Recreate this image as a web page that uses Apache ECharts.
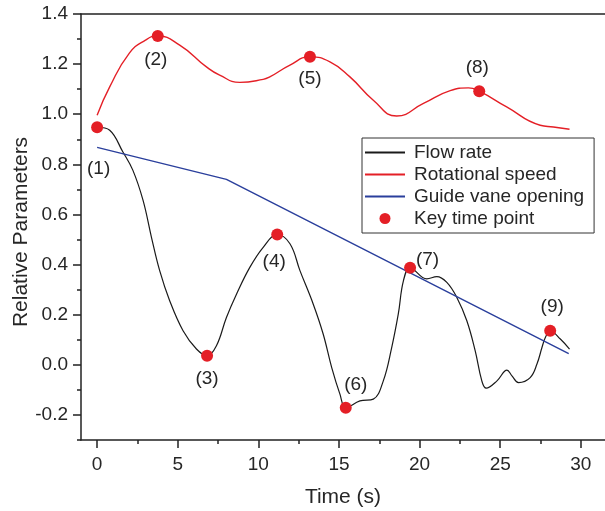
<!DOCTYPE html>
<html>
<head>
<meta charset="utf-8">
<script src="https://cdn.jsdelivr.net/npm/echarts@6/dist/echarts.min.js"></script>
<style>
html,body{margin:0;padding:0;background:#fff;}
#chart{width:605px;height:511px;}
</style>
</head>
<body>
<div id="chart"></div>
<script>
// ---- data ----
var flowT = [0, 0.78, 1.6, 2.22, 2.85, 3.37, 3.88, 4.5, 5.33, 6.16, 6.82, 7.4, 8.02, 8.65, 9.47, 10.3, 11.17, 11.96, 12.58, 13.4, 14.02, 14.55, 15.06, 15.42, 16.3, 17.13, 17.75, 18.27, 18.68, 19.0, 19.41, 20.45, 21.07, 21.69, 22.31, 22.93, 23.45, 23.86, 24.13, 24.8, 25.42, 25.73, 26.14, 26.86, 27.28, 27.59, 27.8, 28.1, 28.73, 29.3];
var flowV = [0.948, 0.936, 0.849, 0.776, 0.656, 0.509, 0.376, 0.256, 0.136, 0.063, 0.036, 0.076, 0.189, 0.283, 0.389, 0.469, 0.52, 0.483, 0.376, 0.243, 0.123, -0.011, -0.117, -0.171, -0.144, -0.137, -0.064, 0.069, 0.203, 0.336, 0.387, 0.343, 0.352, 0.329, 0.269, 0.176, 0.056, -0.064, -0.093, -0.064, -0.021, -0.044, -0.071, -0.051, 0.003, 0.069, 0.109, 0.136, 0.103, 0.063];

var speedT = [0, 0.78, 2.0, 3.0, 3.74, 5.12, 6.78, 7.6, 8.85, 10.3, 10.71, 11.96, 13.2, 14.44, 15.68, 17.13, 18.58, 20.24, 21.9, 23.03, 23.7, 25.4, 27.48, 28.3, 29.3];
var speedV = [0.996, 1.109, 1.244, 1.296, 1.312, 1.276, 1.189, 1.156, 1.127, 1.139, 1.149, 1.196, 1.229, 1.209, 1.149, 1.056, 0.993, 1.043, 1.094, 1.105, 1.092, 1.029, 0.956, 0.949, 0.94];

var vaneT = [0, 8.02, 29.25];
var vaneV = [0.868, 0.74, 0.045];

var keyT = [0, 3.76, 6.82, 11.17, 13.2, 15.42, 19.41, 23.7, 28.1];
var keyV = [0.948, 1.312, 0.036, 0.52, 1.229, -0.171, 0.387, 1.092, 0.136];
var keyLabels = ['(1)', '(2)', '(3)', '(4)', '(5)', '(6)', '(7)', '(8)', '(9)'];

var seriesNames = ['Flow rate', 'Rotational speed', 'Guide vane opening', 'Key time point'];
var xTicks = [0, 5, 10, 15, 20, 25, 30];
var xMinorTicks = [2.5, 7.5, 12.5, 17.5, 22.5, 27.5];
var yTicks = [-0.2, 0.0, 0.2, 0.4, 0.6, 0.8, 1.0, 1.2, 1.4];
var yMinorTicks = [-0.3, -0.1, 0.1, 0.3, 0.5, 0.7, 0.9, 1.1, 1.3];
var xTitle = 'Time (s)';
var yTitle = 'Relative Parameters';

// ---- presentation ----
var labelOffsets = [[1.5, 41.5], [-2, 23.5], [0, 23], [-3, 27.5], [0, 21.5], [10, -23], [17.5, -8], [-2, -23.5], [2, -23.5]];

function zip(a, b) { return a.map(function (v, i) { return [v, b[i]]; }); }

var FONT = '"Liberation Sans", Arial, sans-serif';
var TXT = '#262626';
var AX = '#222';

var chart = echarts.init(document.getElementById('chart'), null, {renderer: 'canvas'});

var xBase = {
  type: 'value', min: -1, max: 31.5, gridIndex: 0,
  splitLine: {show: false}
};
var yBase = {
  type: 'value', min: -0.3, max: 1.4, gridIndex: 0,
  splitLine: {show: false}
};

chart.setOption({
  animation: false,
  backgroundColor: '#fff',
  grid: {left: 81, right: 0, top: 14, bottom: 71, containLabel: false, outerBoundsMode: 'none'},
  xAxis: [
    Object.assign({}, xBase, {
      position: 'bottom',
      name: xTitle, nameLocation: 'middle', nameGap: 47,
      nameTextStyle: {fontFamily: FONT, fontSize: 21, color: TXT},
      axisLine: {show: true, onZero: false, lineStyle: {color: AX, width: 1.5}},
      axisTick: {show: true, inside: false, length: 8, customValues: xTicks, lineStyle: {color: AX, width: 1.5}},
      axisLabel: {show: true, margin: 15, customValues: xTicks, fontFamily: FONT, fontSize: 19, color: TXT}
    }),
    Object.assign({}, xBase, {
      position: 'bottom',
      axisLine: {show: false, onZero: false},
      axisTick: {show: true, inside: false, length: 4, customValues: xMinorTicks, lineStyle: {color: AX, width: 1.5}},
      axisLabel: {show: false}
    }),
    Object.assign({}, xBase, {
      position: 'top',
      axisLine: {show: true, onZero: false, lineStyle: {color: AX, width: 1.5}},
      axisTick: {show: false},
      axisLabel: {show: false}
    })
  ],
  yAxis: [
    Object.assign({}, yBase, {
      position: 'left',
      name: yTitle, nameLocation: 'middle', nameGap: 49, nameRotate: 90, nameMoveOverlap: false,
      nameTextStyle: {fontFamily: FONT, fontSize: 21, color: TXT, padding: [0, 10, 0, 0]},
      axisLine: {show: true, onZero: false, lineStyle: {color: AX, width: 1.5}},
      axisTick: {show: true, inside: false, length: 8, customValues: yTicks, lineStyle: {color: AX, width: 1.5}},
      axisLabel: {show: true, margin: 13, customValues: yTicks, fontFamily: FONT, fontSize: 19, color: TXT,
        formatter: function (v) { return v.toFixed(1); }}
    }),
    Object.assign({}, yBase, {
      position: 'left',
      axisLine: {show: false, onZero: false},
      axisTick: {show: true, inside: false, length: 4, customValues: yMinorTicks, lineStyle: {color: AX, width: 1.5}},
      axisLabel: {show: false}
    })
  ],
  legend: {
    orient: 'vertical',
    left: 362, top: 138,
    data: [
      {name: seriesNames[0], itemStyle: {opacity: 0}},
      {name: seriesNames[1], itemStyle: {opacity: 0}},
      {name: seriesNames[2], itemStyle: {opacity: 0}},
      {name: seriesNames[3]}
    ],
    itemWidth: 40, itemHeight: 11, itemGap: 3,
    padding: [5, 10, 5, 2],
    borderColor: '#333', borderWidth: 1,
    textStyle: {fontFamily: FONT, fontSize: 19, color: TXT, padding: [0, 0, 0, 4]}
  },
  series: [
    {
      name: seriesNames[1], type: 'line', data: zip(speedT, speedV),
      xAxisIndex: 0, yAxisIndex: 0,
      smooth: 0.5, symbol: 'none', showSymbol: false,
      lineStyle: {color: '#e41f26', width: 1.4}, itemStyle: {color: '#e41f26'}, z: 2
    },
    {
      name: seriesNames[0], type: 'line', data: zip(flowT, flowV),
      xAxisIndex: 0, yAxisIndex: 0,
      smooth: 0.4, symbol: 'none', showSymbol: false,
      lineStyle: {color: '#1a1a1a', width: 1.2}, itemStyle: {color: '#1a1a1a'}, z: 3
    },
    {
      name: seriesNames[2], type: 'line', data: zip(vaneT, vaneV),
      xAxisIndex: 0, yAxisIndex: 0,
      symbol: 'none', showSymbol: false,
      lineStyle: {color: '#2a3f9c', width: 1.4}, itemStyle: {color: '#2a3f9c'}, z: 4
    },
    {
      name: seriesNames[3], type: 'scatter',
      xAxisIndex: 0, yAxisIndex: 0,
      symbol: 'circle', symbolSize: 12,
      itemStyle: {color: '#e41f26', opacity: 1},
      z: 5,
      data: keyT.map(function (t, i) {
        return {
          value: [t, keyV[i]],
          label: {
            show: true, position: 'inside', offset: labelOffsets[i],
            formatter: keyLabels[i],
            fontFamily: FONT, fontSize: 19, color: TXT
          }
        };
      })
    }
  ]
});
</script>
</body>
</html>
